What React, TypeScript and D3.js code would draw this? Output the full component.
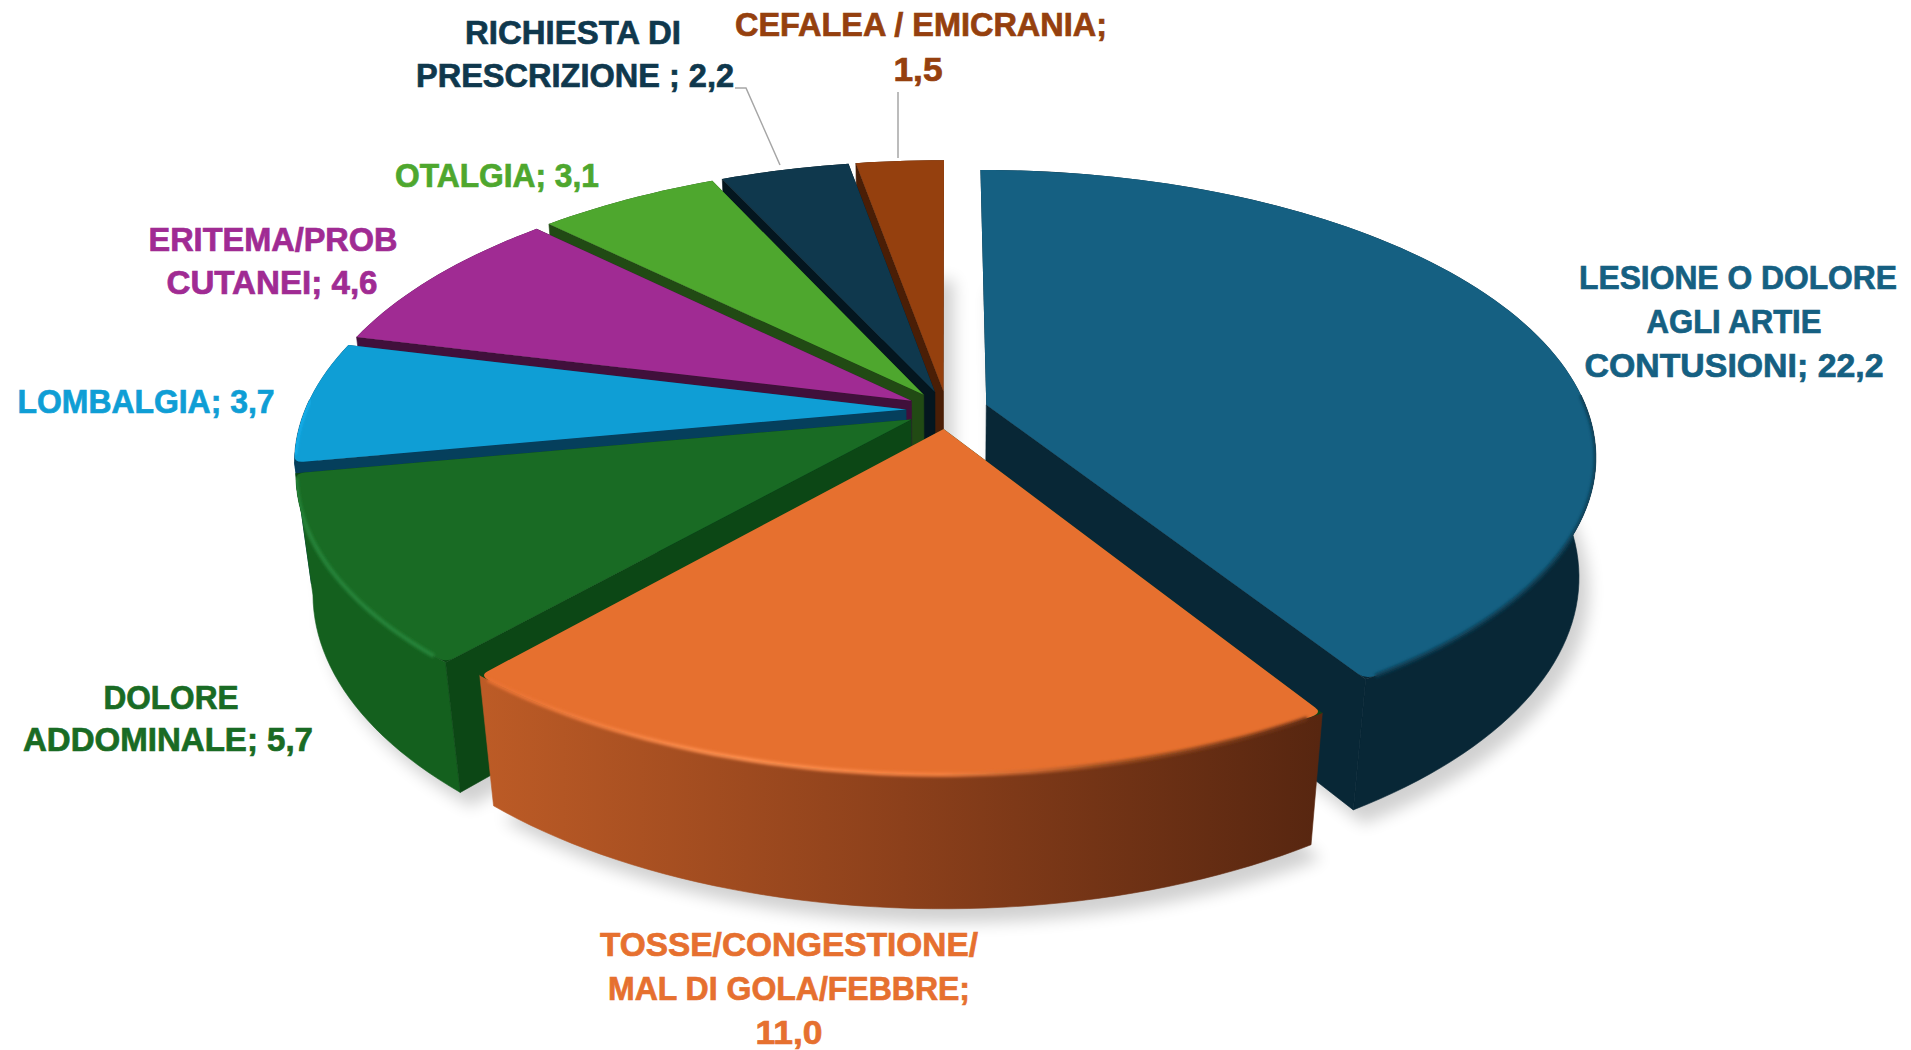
import React, { useEffect, useRef } from 'react';
import * as d3 from 'd3';

const categories = [
    'LESIONE O DOLORE AGLI ARTIE CONTUSIONI',
    'TOSSE/CONGESTIONE/ MAL DI GOLA/FEBBRE',
    'DOLORE ADDOMINALE',
    'LOMBALGIA',
    'ERITEMA/PROB CUTANEI',
    'OTALGIA',
    'RICHIESTA DI PRESCRIZIONE',
    'CEFALEA / EMICRANIA',
];
const values = [22.2, 11.0, 5.7, 3.7, 4.6, 3.1, 2.2, 1.5];

const labelLines = [
    ['LESIONE O DOLORE', 'AGLI ARTIE', 'CONTUSIONI; 22,2'],
    ['TOSSE/CONGESTIONE/', 'MAL DI GOLA/FEBBRE;', '11,0'],
    ['DOLORE', 'ADDOMINALE; 5,7'],
    ['LOMBALGIA; 3,7'],
    ['ERITEMA/PROB', 'CUTANEI; 4,6'],
    ['OTALGIA; 3,1'],
    ['RICHIESTA DI', 'PRESCRIZIONE ; 2,2'],
    ['CEFALEA / EMICRANIA;', '1,5'],
];

const topColors = ['#156082', '#E6702F', '#196B24', '#0F9ED5', '#A02B93', '#4EA72E', '#0F384D', '#95400E'];
const faceColors = ['#082736', '#0C4715', '#0C4715', '#053F5C', '#40103B', '#214A14', '#04161F', '#4A1E06'];
const wallColors = ['#082736', 'url(#orangeWall)', '#14601E', '#053F5C', '#40103B', '#214A14', '#04161F', '#4A1E06'];
const rimColors = ['#0C3C52', 'url(#orangeRim)', '#27853A', '#12B0EE', '#A02B93', '#4EA72E', '#0F384D', '#95400E'];

// label line centres and widths, in svg px
const labelX = [
    [1738, 1734, 1734],
    [789, 789, 789],
    [171, 168],
    [146],
    [273, 272],
    [497],
    [573, 575],
    [921, 918],
];
const labelY = [278, 945, 698, 402, 240, 176, 33, 25];
const labelWidths = [
    [318, 175, 299],
    [378, 362, 67],
    [135, 290],
    [257],
    [249, 211],
    [204],
    [216, 318],
    [372, 49],
];
const lineGaps = [44, 44, 42, 43, 43, 43, 43, 45];

const width = 1911;
const height = 1050;
const cx = 947;
const cy = 410;
const radius = 601;
const explode = 41;
const squash = 0.462;
const persp = 0.175;
const wallDepth = 122;
const wallShrink = 0.026;
const corner = 9;
const rad = Math.PI / 180;

// ground plane -> screen. lower=true gives the underside of the pie
function project(gx: number, gy: number, lower = false): [number, number] {
    const d = -gy / radius;
    const s = 1 / (1 - persp * d + (lower ? wallShrink : 0));
    return [cx + gx * s, cy + (-gy * squash + (lower ? wallDepth : 0)) * s];
}

// point on a-b, dist px away from a
function toward(a: [number, number], b: [number, number], dist: number): [number, number] {
    const len = Math.hypot(b[0] - a[0], b[1] - a[1]);
    return [a[0] + ((b[0] - a[0]) * dist) / len, a[1] + ((b[1] - a[1]) * dist) / len];
}

export default function App() {
    const node = useRef<SVGSVGElement>(null);

    useEffect(() => {
        const svg = d3.select(node.current);
        svg.selectAll('*').remove();

        const defs = svg.append('defs');
        defs.append('filter').attr('id', 'shadow')
            .attr('x', '-20%').attr('y', '-20%').attr('width', '140%').attr('height', '140%')
            .append('feGaussianBlur').attr('stdDeviation', 8);
        defs.append('filter').attr('id', 'bevel')
            .attr('x', '-10%').attr('y', '-10%').attr('width', '120%').attr('height', '120%')
            .append('feGaussianBlur').attr('stdDeviation', 1.6);

        const gradient = (id: string, x1: number, x2: number, stops: [number, string][]) => {
            const g = defs.append('linearGradient').attr('id', id)
                .attr('gradientUnits', 'userSpaceOnUse')
                .attr('x1', x1).attr('x2', x2).attr('y1', 0).attr('y2', 0);
            stops.forEach(([o, c]) => g.append('stop').attr('offset', o).attr('stop-color', c));
        };
        gradient('orangeWall', 485, 1320, [[0, '#BC5B26'], [0.5, '#8C401B'], [1, '#572610']]);
        gradient('orangeRim', 485, 1320, [[0, '#E97132'], [0.3, '#FF9050'], [0.55, '#F58040'], [0.75, '#A04E20'], [1, '#6B3014']]);

        const pie = d3.pie<number>().sort(null).startAngle(0).endAngle(2 * Math.PI);
        const arcs = pie(values);

        const line = d3.line();

        // one wedge's pieces, built from the pie angles
        const pieces = arcs.map((a, i) => {
            const mid = (a.startAngle + a.endAngle) / 2;
            const ox = explode * Math.sin(mid);
            const oy = explode * Math.cos(mid);
            const rim = (angle: number, lower = false) => project(
                ox + radius * Math.sin(angle),
                oy + radius * Math.cos(angle),
                lower,
            );
            const sweep = (from: number, to: number, lower = false) => {
                const n = Math.max(2, Math.ceil((to - from) / (rad * 1.5)));
                return d3.range(n + 1).map((k) => rim(from + ((to - from) * k) / n, lower));
            };
            return { i, a, mid, ox, oy, rim, sweep };
        });

        // shadow under the whole pie
        const shadow = svg.append('g').attr('transform', 'translate(10,14)')
            .attr('filter', 'url(#shadow)').attr('opacity', 0.18);
        pieces.forEach((p) => {
            const apex = project(p.ox, p.oy, true);
            shadow.append('path')
                .attr('d', `${line([apex, ...p.sweep(p.a.startAngle, p.a.endAngle, true)])}Z`)
                .attr('fill', '#000');
        });

        // back to front
        const order = [...pieces].sort((m, n) => Math.cos(n.mid) - Math.cos(m.mid));
        order.forEach((p) => {
            const g = svg.append('g').attr('class', `slice-${p.i}`);
            const { startAngle, endAngle } = p.a;
            const apexTop = project(p.ox, p.oy);
            const apexLow = project(p.ox, p.oy, true);

            // outer wall, only the part turned to the viewer
            const from = Math.max(startAngle, 88 * rad);
            const to = Math.min(endAngle, 272 * rad);
            const hasWall = to > from;
            const wallPath = hasWall
                ? `${line([...p.sweep(from, to), ...p.sweep(from, to, true).reverse()])}Z`
                : '';
            if (hasWall) {
                g.append('path').attr('d', wallPath)
                    .attr('fill', wallColors[p.i])
                    .attr('stroke', wallColors[p.i])
                    .attr('stroke-width', 0.6);
            }

            // cut faces
            const face = (angle: number) => g.append('path')
                .attr('d', `${line([apexTop, p.rim(angle), p.rim(angle, true), apexLow])}Z`)
                .attr('fill', faceColors[p.i])
                .attr('stroke', faceColors[p.i])
                .attr('stroke-width', 0.6);
            if (startAngle >= Math.PI) face(startAngle);
            if (endAngle <= Math.PI) face(endAngle);

            // sharp wedge underneath, so eased corners show a dark edge and not the page
            const sharpPath = `${line([apexTop, ...p.sweep(startAngle, endAngle)])}Z`;
            g.append('path').attr('d', sharpPath).attr('fill', faceColors[p.i]);

            // top, corners eased only where a wall meets them
            const ease = (angle: number) => (angle >= from - rad && angle <= to + rad ? 1 : 0);
            const easeA = ease(startAngle);
            const easeB = ease(endAngle);
            const cornerA = p.rim(startAngle);
            const cornerB = p.rim(endAngle);
            const inner = p.sweep(startAngle + 1.1 * rad * easeA, endAngle - 1.1 * rad * easeB);
            const edgeA = toward(cornerA, apexTop, corner * easeA + 0.01);
            const edgeB = toward(cornerB, apexTop, corner * easeB + 0.01);
            const rimPart = (line(inner) as string).replace(/^M/, 'L');
            const topPath = `M${apexTop}L${edgeA}Q${cornerA} ${inner[0]}${rimPart}Q${cornerB} ${edgeB}Z`;
            g.append('path').attr('d', topPath).attr('fill', topColors[p.i]);

            // soft rim, kept inside the slice
            if (hasWall) {
                defs.append('clipPath').attr('id', `clip-${p.i}`)
                    .append('path').attr('d', `${sharpPath}${wallPath}`);
                g.append('g').attr('clip-path', `url(#clip-${p.i})`)
                    .append('path')
                    .attr('d', line(p.sweep(Math.max(from, startAngle + 1.5 * rad), Math.min(to, endAngle - rad))))
                    .attr('fill', 'none')
                    .attr('stroke', rimColors[p.i])
                    .attr('stroke-width', 4)
                    .attr('filter', 'url(#bevel)');
            }
        });

        // leader lines
        const leaders: [number, number][][] = [
            [[735, 88], [746, 88], [780, 165]],
            [[898, 92], [898, 158]],
        ];
        leaders.forEach((l) => svg.append('path')
            .attr('d', line(l))
            .attr('fill', 'none')
            .attr('stroke', '#A6A6A6')
            .attr('stroke-width', 1.5));

        // labels
        labelLines.forEach((lines, i) => {
            const text = svg.append('text')
                .attr('text-anchor', 'middle')
                .attr('font-family', '"Liberation Sans", Arial, sans-serif')
                .attr('font-weight', 700)
                .attr('font-size', 33)
                .attr('stroke', topColors[i])
                .attr('stroke-width', 0.7)
                .attr('fill', topColors[i]);
            lines.forEach((t, k) => text.append('tspan')
                .attr('x', labelX[i][k])
                .attr('y', labelY[i] + k * lineGaps[i] + 11)
                .attr('textLength', labelWidths[i][k])
                .attr('lengthAdjust', 'spacingAndGlyphs')
                .text(t));
            text.append('title').text(categories[i]);
        });
    }, []);

    return (
        <svg
            ref={node}
            width={width}
            height={height}
            style={{ position: 'absolute', left: 0, top: 0, background: '#fff' }}
        />
    );
}
